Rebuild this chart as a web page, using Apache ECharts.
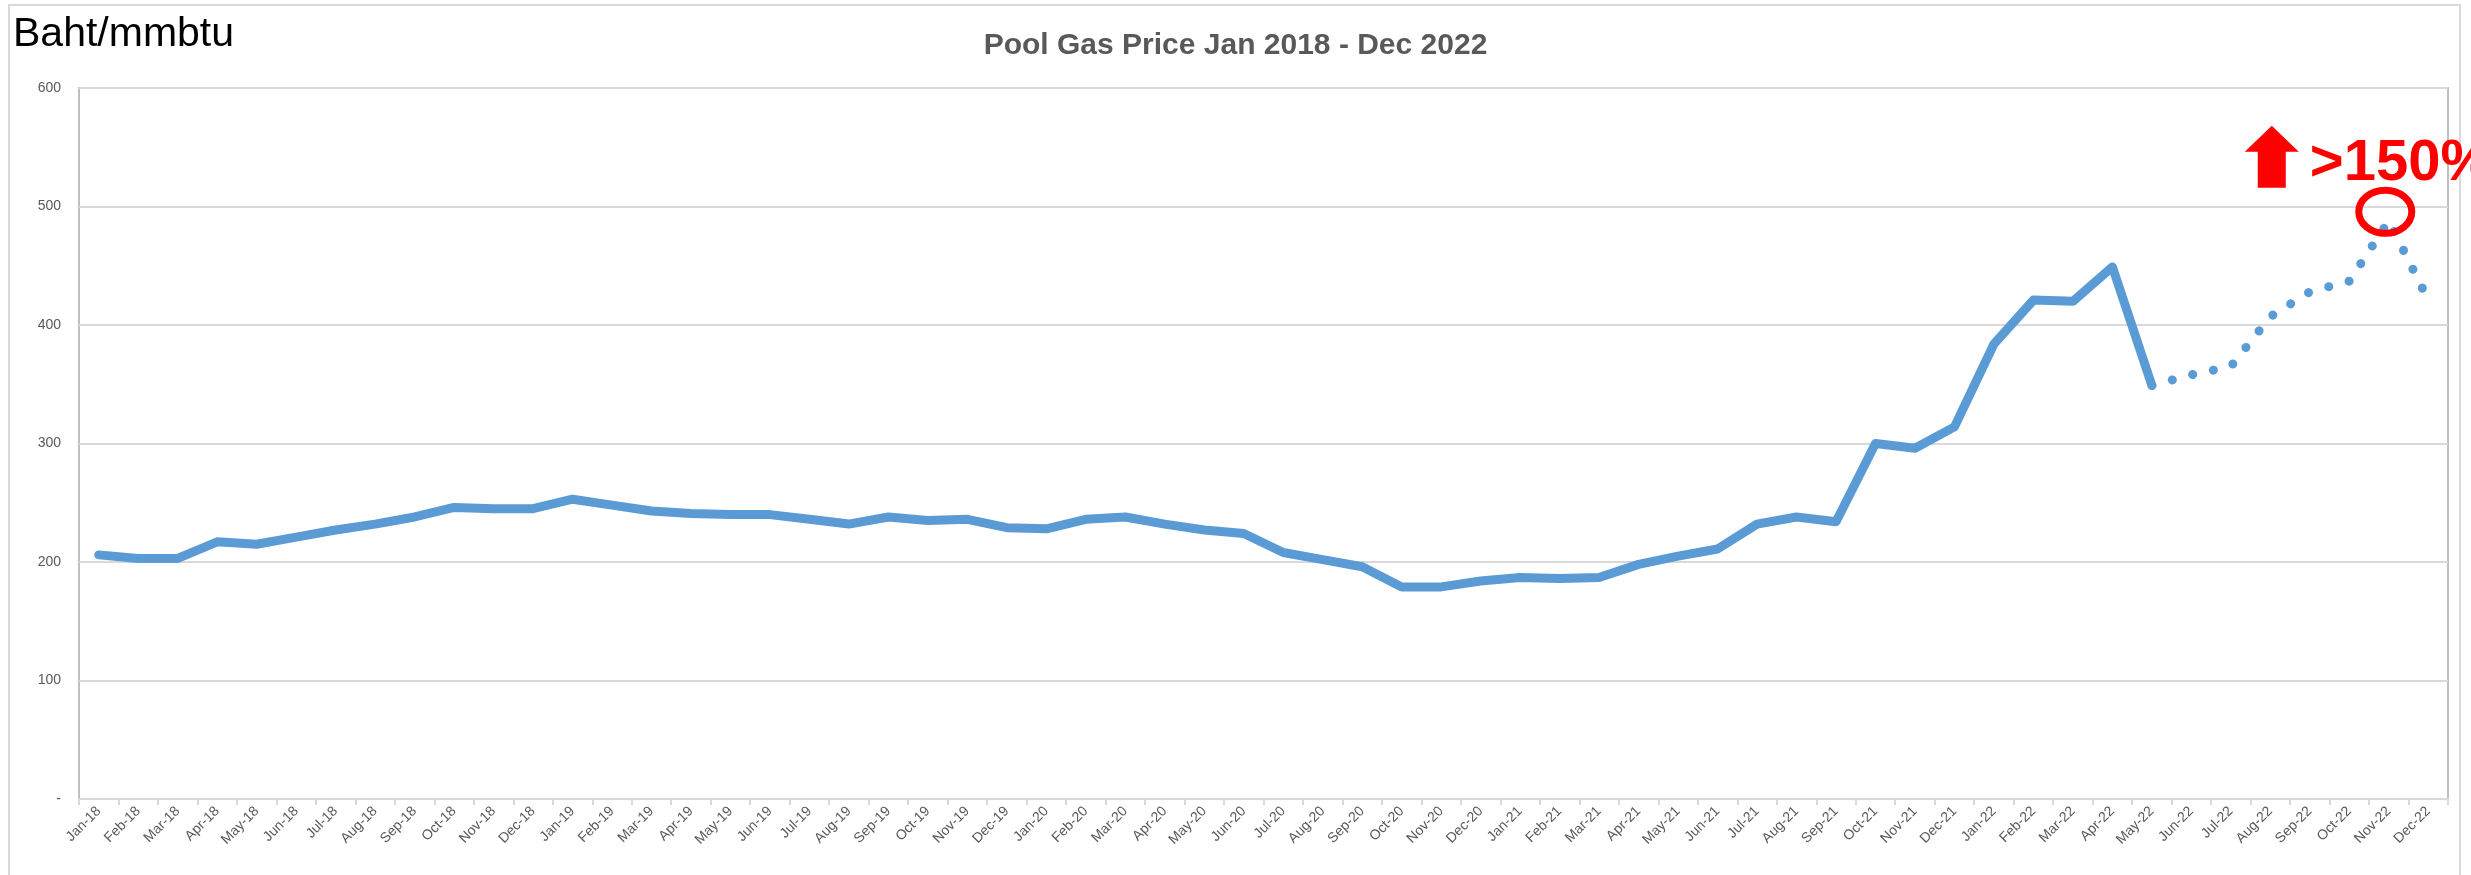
<!DOCTYPE html>
<html><head><meta charset="utf-8">
<script src="https://cdn.jsdelivr.net/npm/echarts@6/dist/echarts.min.js"></script>
<style>html,body{margin:0;padding:0;background:#fff}#c{width:2471px;height:875px}</style>
</head><body><div id="c"></div>
<script>
const categories = [
  'Jan-18','Feb-18','Mar-18','Apr-18','May-18','Jun-18','Jul-18','Aug-18','Sep-18','Oct-18','Nov-18','Dec-18',
  'Jan-19','Feb-19','Mar-19','Apr-19','May-19','Jun-19','Jul-19','Aug-19','Sep-19','Oct-19','Nov-19','Dec-19',
  'Jan-20','Feb-20','Mar-20','Apr-20','May-20','Jun-20','Jul-20','Aug-20','Sep-20','Oct-20','Nov-20','Dec-20',
  'Jan-21','Feb-21','Mar-21','Apr-21','May-21','Jun-21','Jul-21','Aug-21','Sep-21','Oct-21','Nov-21','Dec-21',
  'Jan-22','Feb-22','Mar-22','Apr-22','May-22','Jun-22','Jul-22','Aug-22','Sep-22','Oct-22','Nov-22','Dec-22'
];
// Solid segment: Jan-18 .. May-22
const actualValues = [
  206,203,203,217,215,221,227,232,238,246,245,245,
  253,248,243,241,240,240,236,232,238,235,236,229,
  228,236,238,232,227,224,208,202,196,179,179,184,
  187,186,187,198,205,211,232,238,234,300,296,314,
  384,421,420,449,349
];
// Dotted segment: Jun-22 .. Dec-22
const projectedValues = [358,365,407,428,437,488,421];
const yTicks = [0,100,200,300,400,500,600];
const titleText = 'Pool Gas Price Jan 2018 - Dec 2022';
const unitText = 'Baht/mmbtu';
const noteText = '>150%';
const peakCategory = 'Nov-22';

const solidData = actualValues.slice();
const dottedData = categories.map((c, i) => {
  if (i < actualValues.length - 1) return null;
  if (i === actualValues.length - 1) return actualValues[i];
  return projectedValues[i - actualValues.length];
});

const blue = '#5B9BD5';
const grey = '#595959';
const chart = echarts.init(document.getElementById('c'));
const option = {
  animation: false,
  backgroundColor: '#fff',
  title: {
    text: titleText, left: 'center', top: 26,
    textStyle: { fontFamily: 'Liberation Sans', fontSize: 30, fontWeight: 'bold', color: grey }
  },
  grid: { left: 79, right: 23, top: 88, bottom: 76, show: true, borderColor: '#bfbfbf', borderWidth: 2, containLabel: false },
  xAxis: {
    type: 'category', data: categories, boundaryGap: true,
    axisLine: { lineStyle: { color: '#d9d9d9', width: 2 } },
    axisTick: { show: true, interval: 0, length: 6, lineStyle: { color: '#d9d9d9', width: 2 } },
    axisLabel: { interval: 0, rotate: 45, margin: 10, fontFamily: 'Liberation Sans', fontSize: 14, color: grey },
    splitLine: { show: false }
  },
  yAxis: {
    type: 'value', min: yTicks[0], max: yTicks[yTicks.length - 1], interval: 100,
    axisLine: { show: false }, axisTick: { show: false },
    axisLabel: { margin: 18, fontFamily: 'Liberation Sans', fontSize: 14, color: grey,
      formatter: v => v === 0 ? '-' : String(v) },
    splitLine: { lineStyle: { color: '#d9d9d9', width: 2 } }
  },
  series: [
    { type: 'line', data: solidData, showSymbol: false, symbol: 'none',
      lineStyle: { color: blue, width: 9, cap: 'round', join: 'round' }, z: 3 },
    { type: 'line', data: dottedData, showSymbol: false, symbol: 'none', connectNulls: false,
      lineStyle: { color: blue, width: 9, type: [0.1, 21], cap: 'round', join: 'round' }, z: 3 }
  ]
};
chart.setOption(option);

const idx = categories.indexOf(peakCategory);
const p = chart.convertToPixel({ seriesIndex: 1 }, [idx, dottedData[idx]]);
const px = p[0], py = p[1];
chart.setOption({
  graphic: [
    { type: 'rect', shape: { x: 9, y: 5, width: 2451, height: 900 }, style: { fill: 'none', stroke: '#d9d9d9', lineWidth: 2 }, z: 0, silent: true },
    { type: 'text', left: 13, top: 14, style: { text: unitText, fontFamily: 'Liberation Sans', fontSize: 41, fill: '#000' }, z: 10 },
    { type: 'ellipse', shape: { cx: px - 3.5, cy: py - 9, rx: 26.5, ry: 21.5 }, style: { fill: 'none', stroke: '#FF0000', lineWidth: 7 }, z: 10 },
    { type: 'polygon', shape: { points: [
        [px - 117, py - 95], [px - 90, py - 69], [px - 103, py - 69], [px - 103, py - 33],
        [px - 131, py - 33], [px - 131, py - 69], [px - 144, py - 69] ] },
      style: { fill: '#FF0000' }, z: 10 },
    { type: 'text', x: px - 79, y: py - 86, style: { text: noteText, fontFamily: 'Liberation Sans', fontWeight: 'bold', fontSize: 58, fill: '#FF0000' }, z: 10 }
  ]
});
</script></body></html>
